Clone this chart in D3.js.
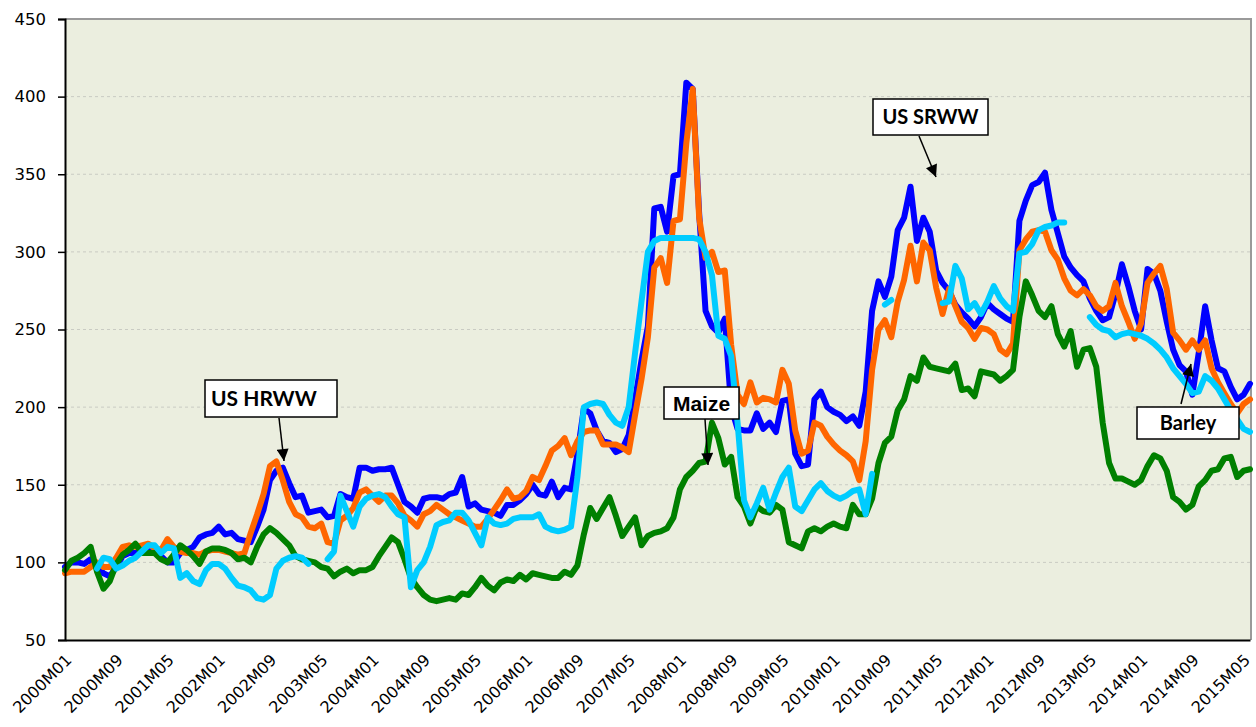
<!DOCTYPE html>
<html>
<head>
<meta charset="utf-8">
<script src="https://cdn.jsdelivr.net/npm/d3@7"></script>
<style>
  body { margin: 0; background: #fff; }
  svg { display: block; }
</style>
</head>
<body>
<svg width="1256" height="727"></svg>
<script>
// monthly categories 2000M01 .. 2015M06
var months = [];
for (var yr = 2000; yr <= 2015; yr++) {
    for (var m = 1; m <= 12; m++) {
        if (yr === 2015 && m > 6) break;
        months.push(yr + "M" + (m < 10 ? "0" + m : m));
    }
}

// index values (one per month)
var blueSeries = [97,100,100,99,102,97,93,91,97,104,106,106,107,107,108,104,100,100,106,108,
    110,116,118,119,123,118,119,115,114,113,123,134,153,159,161,151,142,143,132,133,
    134,129,130,144,142,141,161,161,159,160,160,161,150,139,136,132,141,142,142,141,
    144,145,155,136,138,134,133,132,130,137,137,140,144,150,144,143,152,142,148,147,
    170,199,196,185,178,177,171,173,182,205,230,252,328,329,313,349,350,409,405,325,
    262,252,248,257,200,186,185,185,196,186,190,184,204,205,170,162,163,205,210,200,
    197,195,191,194,188,210,262,281,271,284,314,322,342,307,322,313,288,280,275,266,
    261,257,252,258,267,263,260,257,255,320,333,343,345,351,327,312,297,290,285,281,
    270,262,256,258,273,292,278,262,250,289,286,275,255,237,227,223,208,235,265,243,
    225,223,213,205,208,215];

var orangeSeries = [93,94,94,94,97,100,97,97,103,110,111,110,111,112,109,108,115,110,107,106,
    106,105,107,108,108,107,106,105,106,119,131,144,162,165,153,139,131,129,123,122,
    125,113,112,127,130,135,145,147,143,139,143,143,138,130,127,123,131,133,137,134,
    131,129,127,125,123,123,128,134,140,147,141,142,146,155,153,162,172,175,180,169,
    178,184,185,185,176,176,176,174,171,195,218,245,290,296,280,320,321,370,405,322,
    296,300,287,288,240,208,202,216,203,206,205,203,224,215,185,170,172,190,188,181,
    176,172,169,165,153,178,224,250,256,245,268,282,304,281,306,301,277,260,276,265,
    255,251,244,251,250,247,237,234,241,301,308,313,314,313,301,295,283,275,272,276,
    272,265,262,265,280,265,255,244,254,280,286,291,276,248,243,237,243,237,243,225,
    216,209,202,196,202,205];

var greenSeries = [95,101,103,106,110,94,83,88,99,105,108,112,106,106,106,102,100,105,111,108,
    104,99,107,109,109,108,106,102,103,100,110,118,122,119,115,111,104,102,101,100,
    97,96,91,94,96,93,95,95,97,104,110,116,113,102,90,84,79,76,75,76,
    77,76,80,79,84,90,85,82,87,89,88,92,89,93,92,91,90,90,94,92,
    98,118,135,128,135,142,130,117,123,129,111,117,119,120,122,129,147,155,159,164,
    165,190,180,163,168,142,136,125,136,133,132,137,134,113,111,109,120,122,120,123,
    125,123,122,137,131,131,141,164,177,181,198,205,220,217,232,226,225,224,223,228,
    211,212,207,223,222,221,217,220,224,258,281,272,262,258,265,247,239,249,226,237,
    238,226,190,164,154,154,152,150,153,162,169,167,159,142,139,134,137,149,153,159,
    160,167,168,155,159,160];

var cyanSeries = [null,null,null,null,null,96,103,102,96,98,101,103,107,111,111,106,110,109,90,93,
    88,86,95,99,99,96,90,85,84,82,77,76,79,96,101,103,104,103,99,null,
    null,102,107,143,133,123,136,141,143,144,142,136,131,129,84,95,100,110,124,126,
    127,132,132,127,119,111,129,125,124,125,128,129,129,129,131,123,121,120,121,123,
    155,200,202,203,202,195,190,188,200,235,268,300,307,309,309,309,309,309,309,308,
    300,285,246,244,233,190,140,129,138,148,134,145,155,161,136,133,140,147,151,146,
    143,141,143,146,147,131,157,null,266,269,null,null,null,null,null,null,null,267,268,291,
    283,263,267,260,268,278,270,265,262,299,300,305,314,316,317,319,319,null,null,null,
    258,253,250,249,245,247,248,247,246,244,241,237,232,225,220,215,209,210,220,217,
    212,205,198,192,186,184];

// drawing order: blue, orange, green, cyan on top
var seriesList = [
    { values: blueSeries, color: "#0000ff" },
    { values: orangeSeries, color: "#ff6600" },
    { values: greenSeries, color: "#008000" },
    { values: cyanSeries, color: "#00ccff" }
];

var yTicks = [50, 100, 150, 200, 250, 300, 350, 400, 450];
var xLabelEvery = 8;

var notes = [
    { text: "US HRWW", box: [205, 380, 132, 37], font: "Lato", size: 21, align: "start", from: [279, 418], to: [284, 461] },
    { text: "US SRWW", box: [873, 99, 115, 36], font: "Lato", size: 20, align: "middle", from: [919, 136], to: [936, 177] },
    { text: "Maize", box: [664, 387, 75, 32], font: "Liberation Sans", size: 21, align: "middle", from: [705, 419], to: [708, 465] },
    { text: "Barley", box: [1137, 407, 102, 32], font: "Lato", size: 20, align: "middle", from: [1181, 404], to: [1191, 364] }
];

var svg = d3.select("svg"),
    width = +svg.attr("width"),
    height = +svg.attr("height");

var plotL = 65, plotT = 19, plotR = 1251, plotB = 640;

var x = d3.scalePoint()
    .domain(months)
    .range([plotL, plotR - 1]);

var y = d3.scaleLinear()
    .domain([50, 450])
    .range([plotB, plotT]);

// plot background
svg.append("rect")
    .attr("x", plotL)
    .attr("y", plotT)
    .attr("width", plotR - plotL)
    .attr("height", plotB - plotT)
    .attr("fill", "#ebeedf");

// dashed grid
svg.append("g")
    .selectAll("line")
    .data(yTicks.slice(1, -1))
    .enter().append("line")
    .attr("x1", plotL)
    .attr("x2", plotR)
    .attr("y1", function (d) { return y(d); })
    .attr("y2", function (d) { return y(d); })
    .attr("stroke", "#c9cbc3")
    .attr("stroke-width", 1)
    .attr("stroke-dasharray", "3,3");

// top and right border
svg.append("path")
    .attr("d", "M" + plotL + "," + plotT + "H" + plotR + "V" + plotB)
    .attr("fill", "none")
    .attr("stroke", "#9a9a9a")
    .attr("stroke-width", 2);

// lines
var line = d3.line()
    .defined(function (d) { return d != null; })
    .x(function (d, i) { return x(months[i]); })
    .y(function (d) { return y(d); });

svg.append("g")
    .selectAll("path")
    .data(seriesList)
    .enter().append("path")
    .attr("d", function (s) { return line(s.values); })
    .attr("fill", "none")
    .attr("stroke", function (s) { return s.color; })
    .attr("stroke-width", 6)
    .attr("stroke-linejoin", "round")
    .attr("stroke-linecap", "round");

// y axis
var yAxis = svg.append("g")
    .attr("transform", "translate(" + plotL + ",0)")
    .call(d3.axisLeft(y).tickValues(yTicks).tickSize(7).tickPadding(12));
yAxis.select(".domain").attr("stroke", "#000").attr("stroke-width", 2);
yAxis.selectAll(".tick line").attr("stroke", "#000").attr("stroke-width", 1.5);
yAxis.selectAll("text")
    .attr("font-family", "DejaVu Sans")
    .attr("font-size", 16.5)
    .attr("fill", "#000");

// x axis (labels only, rotated)
var xAxis = svg.append("g")
    .attr("transform", "translate(0," + plotB + ")")
    .call(d3.axisBottom(x)
        .tickValues(months.filter(function (d, i) { return i % xLabelEvery === 0; }))
        .tickSize(0));
xAxis.select(".domain").attr("stroke", "#000").attr("stroke-width", 2);
xAxis.selectAll("text")
    .attr("font-family", "DejaVu Sans")
    .attr("font-size", 16)
    .attr("fill", "#000")
    .attr("text-anchor", "end")
    .attr("dy", "0.35em")
    .attr("transform", "translate(1,15) rotate(-45)");

// arrow head
svg.append("defs").append("marker")
    .attr("id", "head")
    .attr("viewBox", "0 0 10 10")
    .attr("refX", 10)
    .attr("refY", 5)
    .attr("markerWidth", 14)
    .attr("markerHeight", 12)
    .attr("markerUnits", "userSpaceOnUse")
    .attr("orient", "auto")
    .append("path")
    .attr("d", "M0,0L10,5L0,10Z")
    .attr("fill", "#000");

// annotations
var note = svg.append("g")
    .selectAll("g")
    .data(notes)
    .enter().append("g");

note.append("line")
    .attr("x1", function (d) { return d.from[0]; })
    .attr("y1", function (d) { return d.from[1]; })
    .attr("x2", function (d) { return d.to[0]; })
    .attr("y2", function (d) { return d.to[1]; })
    .attr("stroke", "#000")
    .attr("stroke-width", 1.5)
    .attr("marker-end", "url(#head)");

note.append("rect")
    .attr("x", function (d) { return d.box[0]; })
    .attr("y", function (d) { return d.box[1]; })
    .attr("width", function (d) { return d.box[2]; })
    .attr("height", function (d) { return d.box[3]; })
    .attr("fill", "#fff")
    .attr("stroke", "#000")
    .attr("stroke-width", 1.5);

note.append("text")
    .attr("x", function (d) {
        return d.align === "start" ? d.box[0] + 6 : d.box[0] + d.box[2] / 2;
    })
    .attr("y", function (d) { return d.box[1] + d.box[3] / 2; })
    .attr("dy", "0.36em")
    .attr("text-anchor", function (d) { return d.align; })
    .attr("font-family", function (d) { return d.font; })
    .attr("font-weight", "bold")
    .attr("font-size", function (d) { return d.size; })
    .attr("fill", "#000")
    .text(function (d) { return d.text; });
</script>
</body>
</html>
